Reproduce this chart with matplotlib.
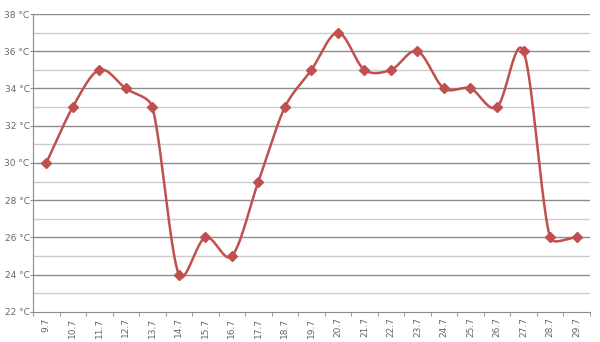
import numpy as np
import matplotlib
matplotlib.use("Agg")
import matplotlib.pyplot as plt

dates = ["9.7", "10.7", "11.7", "12.7", "13.7", "14.7", "15.7", "16.7", "17.7", "18.7",
         "19.7", "20.7", "21.7", "22.7", "23.7", "24.7", "25.7", "26.7", "27.7", "28.7", "29.7"]
temps = [30, 33, 35, 34, 33, 24, 26, 25, 29, 33, 35, 37, 35, 35, 36, 34, 34, 33, 36, 26, 26]
y_ticks = [22, 24, 26, 28, 30, 32, 34, 36, 38]

color = "#c0504d"


def smooth(xs, ys, kx, ky, limit=0.35, n=40):
    # Excel-like smoothing in screen space: Catmull-Rom tangents whose
    # control-point distance is limited by the adjacent segment length.
    P = np.column_stack([np.asarray(xs, float) * kx, np.asarray(ys, float) * ky])
    m = len(P)
    D = np.zeros_like(P)
    for i in range(m):
        a = P[max(i - 1, 0)]
        b = P[min(i + 1, m - 1)]
        D[i] = (b - a) / 6.0
        if i == 0 or i == m - 1:
            D[i] = (b - a) / 3.0

    def clip(v, L):
        nv = np.linalg.norm(v)
        if nv > limit * L and nv > 0:
            return v / nv * limit * L
        return v

    t = np.linspace(0, 1, n)[:, None]
    out = []
    for i in range(m - 1):
        p1, p2 = P[i], P[i + 1]
        L = np.linalg.norm(p2 - p1)
        c1 = p1 + clip(D[i], L)
        c2 = p2 - clip(D[i + 1], L)
        seg = (1 - t) ** 3 * p1 + 3 * (1 - t) ** 2 * t * c1 + 3 * (1 - t) * t ** 2 * c2 + t ** 3 * p2
        out.append(seg)
    out = np.vstack(out)
    return out[:, 0] / kx, out[:, 1] / ky


fig = plt.figure(figsize=(6, 3.42), dpi=100)
ax = fig.add_axes([0.055, 0.088, 0.928, 0.871])

x = np.arange(len(dates))
kx = 0.928 * 600 / len(dates)
ky = 0.871 * 342 / (y_ticks[-1] - y_ticks[0])
sx, sy = smooth(x, temps, kx, ky)

ax.set_ylim(22, 38)
ax.set_xlim(-0.5, len(dates) - 0.5)

for v in range(23, 38, 2):
    ax.axhline(v, color="#cccccc", lw=1, zorder=0)
for v in y_ticks[1:]:
    ax.axhline(v, color="#8c8c8c", lw=1, zorder=0)

ax.plot(sx, sy, color=color, lw=1.8, zorder=3)
ax.plot(x, temps, linestyle="none", marker="D", markersize=5.5, color=color, zorder=4)

ax.set_yticks(y_ticks)
ax.set_yticklabels([f"{v} °C" for v in y_ticks])
ax.set_xticks(x)
ax.set_xticklabels(dates, rotation=90)
ax.set_xticks(np.arange(-0.5, len(dates), 1), minor=True)
ax.tick_params(axis="x", which="major", length=0, labelsize=6.5, labelcolor="#666666", pad=4)
ax.tick_params(axis="x", which="minor", length=3, color="#8c8c8c")
ax.tick_params(axis="y", length=2, color="#8c8c8c", labelsize=6.5, labelcolor="#666666", pad=0.5)

for s in ["top", "right"]:
    ax.spines[s].set_visible(False)
for s in ["left", "bottom"]:
    ax.spines[s].set_color("#8c8c8c")

fig.savefig("out.png", dpi=100)
